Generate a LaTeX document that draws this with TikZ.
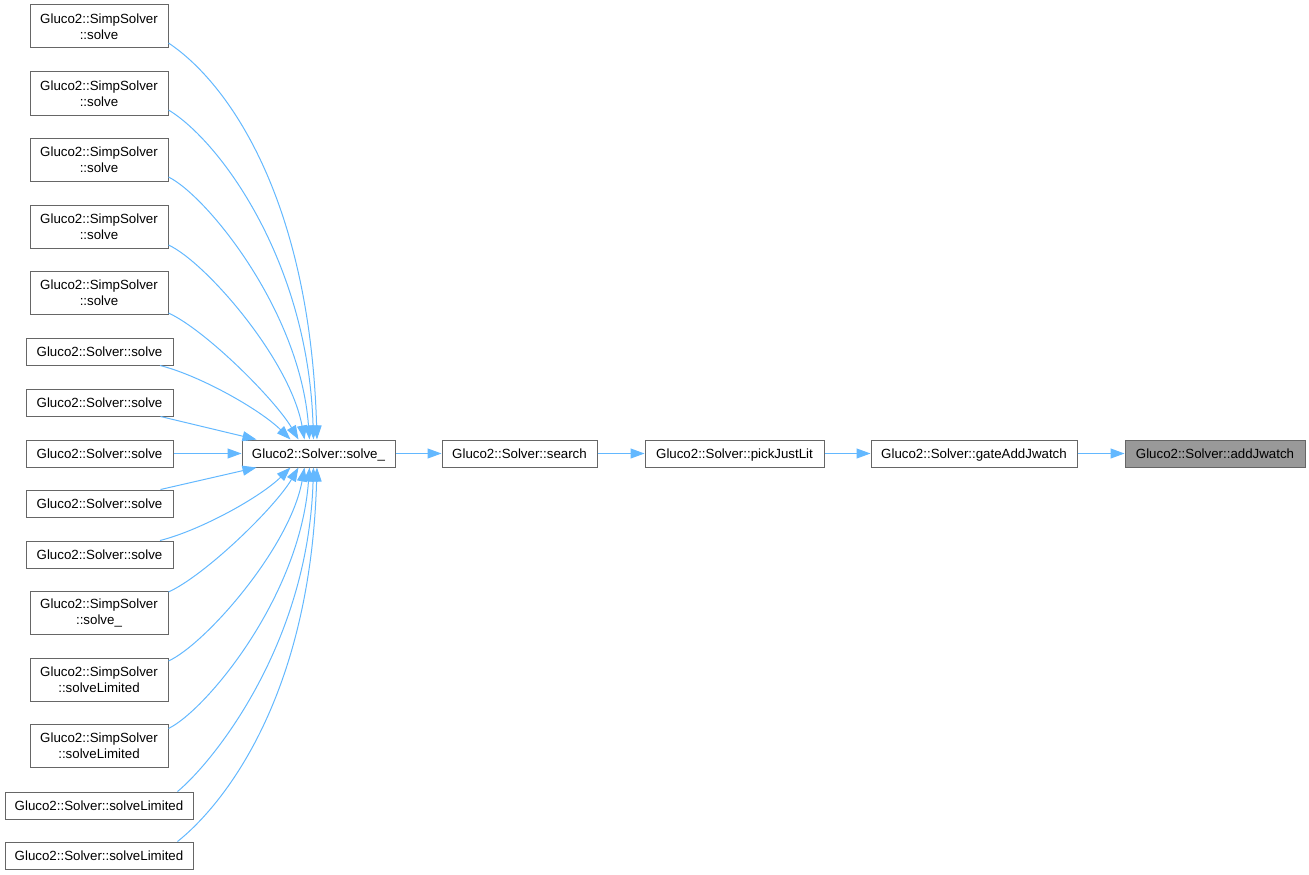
\documentclass[tikz,border=0pt]{standalone}
\usepackage{fontspec}
\setmainfont{Liberation Sans}
\usetikzlibrary{arrows.meta}
\definecolor{edgeblue}{HTML}{63B8FF}
\definecolor{boxgray}{HTML}{666666}
\definecolor{fillgray}{HTML}{999999}
\begin{document}
\begin{tikzpicture}[x=1pt,y=1pt,
  basebox/.style={draw=boxgray, fill=white, line width=1pt, inner sep=0pt, align=center,
    font=\fontsize{13.3}{16}\selectfont},
  fn/.style={basebox, minimum height=27pt, text height=10.5pt, text depth=1.5pt},
  fntwo/.style={basebox, minimum height=43pt, minimum width=138pt},
  ed/.style={draw=edgeblue, line width=1pt, -{Triangle[length=14pt,width=10pt]}}]
\path[use as bounding box] (0,0) rectangle (1309,-875);
% left column
\node[fntwo] (s1) at (99,-26.5) {Gluco2::SimpSolver\\::solve};
\node[fntwo] (s2) at (99,-93.5) {Gluco2::SimpSolver\\::solve};
\node[fntwo] (s3) at (99,-160) {Gluco2::SimpSolver\\::solve};
\node[fntwo] (s4) at (99,-226.5) {Gluco2::SimpSolver\\::solve};
\node[fntwo] (s5) at (99,-292.5) {Gluco2::SimpSolver\\::solve};
\node[fn, minimum width=147pt] (v1) at (99.5,-351.5) {Gluco2::Solver::solve};
\node[fn, minimum width=147pt] (v2) at (99.5,-402.5) {Gluco2::Solver::solve};
\node[fn, minimum width=147pt] (v3) at (99.5,-453.5) {Gluco2::Solver::solve};
\node[fn, minimum width=147pt] (v4) at (99.5,-503.5) {Gluco2::Solver::solve};
\node[fn, minimum width=147pt] (v5) at (99.5,-554.5) {Gluco2::Solver::solve};
\node[fntwo] (s6) at (99,-612.5) {Gluco2::SimpSolver\\::solve\_};
\node[fntwo] (s7) at (99,-679.5) {Gluco2::SimpSolver\\::solveLimited};
\node[fntwo] (s8) at (99,-745.5) {Gluco2::SimpSolver\\::solveLimited};
\node[fn, minimum width=188pt] (l1) at (99,-805.5) {Gluco2::Solver::solveLimited};
\node[fn, minimum width=188pt] (l2) at (99,-855.5) {Gluco2::Solver::solveLimited};
% chain
\node[fn, minimum width=153pt] (sv) at (318.5,-453.5) {Gluco2::Solver::solve\_};
\node[fn, minimum width=155pt] (search) at (519.5,-453.5) {Gluco2::Solver::search};
\node[fn, minimum width=179pt] (pick) at (734.5,-453.5) {Gluco2::Solver::pickJustLit};
\node[fn, minimum width=206pt] (gate) at (974,-453.5) {Gluco2::Solver::gateAddJwatch};
\node[fn, minimum width=180pt, fill=fillgray] (add) at (1215,-453.5) {Gluco2::Solver::addJwatch};
% edges into solve_
\draw[ed] ([yshift=-16.5pt]s1.east) .. controls +(60,-40) and +(-7,240) .. ([xshift=-1.5pt]sv.north);
\draw[ed] ([yshift=-16.5pt]s2.east) .. controls +(50,-30) and +(-5.5,180) .. ([xshift=-5pt]sv.north);
\draw[ed] ([yshift=-17pt]s3.east) .. controls +(37,-18) and +(-9.5,130) .. ([xshift=-9pt]sv.north);
\draw[ed] ([yshift=-18.5pt]s4.east) .. controls +(37,-17) and +(-14.5,80) .. ([xshift=-14pt]sv.north);
\draw[ed] ([yshift=-20.5pt]s5.east) .. controls +(37,-17) and +(-23.5,40) .. ([xshift=-20pt]sv.north);
\draw[ed] ([xshift=-13.5pt]v1.south east) .. controls +(40,-10) and +(-30.5,30) .. ([xshift=-28pt]sv.north);
\draw[ed] ([xshift=-13pt]v2.south east) -- ([xshift=15pt]sv.north west);
\draw[ed] (v3.east) -- (sv.west);
\draw[ed] ([xshift=-13pt]v4.north east) -- ([xshift=15pt]sv.south west);
\draw[ed] ([xshift=-13.5pt]v5.north east) .. controls +(40,10) and +(-30.5,-30) .. ([xshift=-28pt]sv.south);
\draw[ed] ([yshift=20.5pt]s6.east) .. controls +(37,17) and +(-23.5,-40) .. ([xshift=-20pt]sv.south);
\draw[ed] ([yshift=18.5pt]s7.east) .. controls +(37,17) and +(-14.5,-80) .. ([xshift=-14pt]sv.south);
\draw[ed] ([yshift=17pt]s8.east) .. controls +(37,18) and +(-9.5,-130) .. ([xshift=-9pt]sv.south);
\draw[ed] ([xshift=-16pt]l1.north east) .. controls +(33,27) and +(-5.5,-180) .. ([xshift=-5pt]sv.south);
\draw[ed] ([xshift=-16pt]l2.north east) .. controls +(38,30) and +(-7,-240) .. ([xshift=-1.5pt]sv.south);
% chain edges
\draw[ed] (sv) -- (search);
\draw[ed] (search) -- (pick);
\draw[ed] (pick) -- (gate);
\draw[ed] (gate) -- (add);
\end{tikzpicture}
\end{document}
